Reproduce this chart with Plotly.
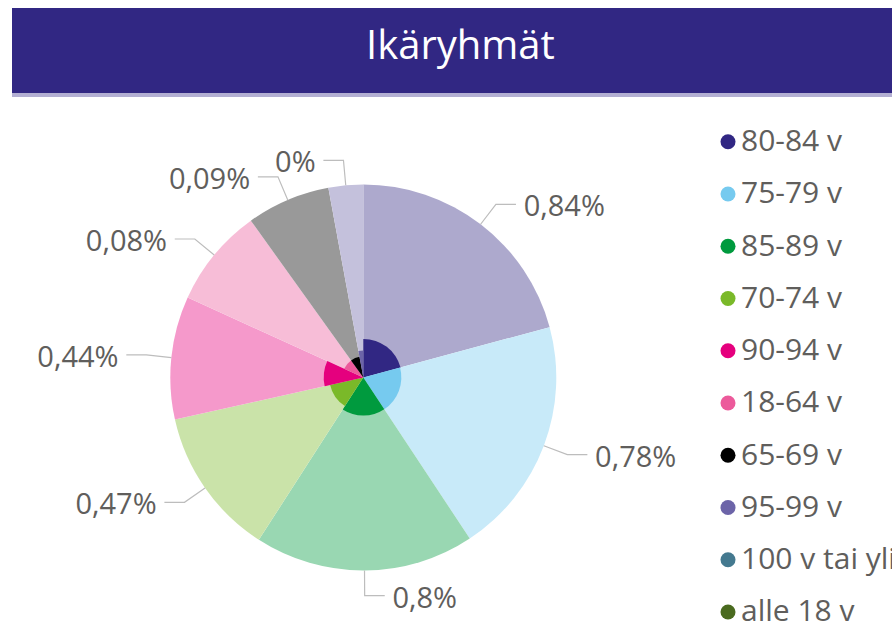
import math
import plotly.graph_objects as go

# ---------------- data ----------------
age_groups = ["80-84 v", "75-79 v", "85-89 v", "70-74 v", "90-94 v", "18-64 v", "65-69 v", "95-99 v"]
pct_labels = ["0,84%", "0,78%", "0,8%", "0,47%", "0,44%", "0,08%", "0,09%", "0%"]
share = [20.8, 19.9, 18.4, 12.4, 10.3, 8.3, 7.0, 2.9]            # slice angle measure (% of circle)
outer_value = [1, 1, 1, 1, 1, 1, 1, 1]                             # outer ring measure
inner_value = [0.20, 0.197, 0.197, 0.176, 0.205, 0.109, 0.109, 0.14]  # inner radius measure

legend_labels = ["80-84 v", "75-79 v", "85-89 v", "70-74 v", "90-94 v", "18-64 v",
                 "65-69 v", "95-99 v", "100 v tai yli", "alle 18 v"]
legend_colors = ["#312783", "#76CAEF", "#009A3E", "#7AB929", "#E5007E", "#EC5A9B",
                 "#000000", "#6C64A8", "#44798F", "#4A6A1F"]

# ---------------- styling ----------------
FONT = "Segoe UI, Open Sans, sans-serif"
TEXT_COL = "#605E5C"
W, H = 892, 630


def light(hex_col, a=0.4):
    h = hex_col.lstrip("#")
    r, g, b = int(h[0:2], 16), int(h[2:4], 16), int(h[4:6], 16)
    return "rgb(%d,%d,%d)" % tuple(round(255 - a * (255 - c)) for c in (r, g, b))


slice_colors = legend_colors[:len(age_groups)]
total = sum(share)
widths = [s / total * 360 for s in share]
centers = []
acc = 0
for w in widths:
    centers.append(acc + w / 2)
    acc += w

fig = go.Figure()

fig.add_trace(go.Barpolar(
    r=outer_value, theta=centers, width=widths,
    marker=dict(color=[light(c) for c in slice_colors], line=dict(width=0)),
    showlegend=False, hoverinfo="skip"))
fig.add_trace(go.Barpolar(
    r=inner_value, theta=centers, width=widths,
    marker=dict(color=slice_colors, line=dict(width=0)),
    showlegend=False, hoverinfo="skip"))


def to_polar(x, y):
    return math.hypot(x, y), math.degrees(math.atan2(x, y)) % 360


# leader lines + labels
R_EDGE, R_ELBOW, H_LEN, GAP, DROP = 1.0, 1.13, 0.104, 0.04, 0.025
lr, lt = [], []
tr, tt, tpos = [], [], []
for phi in centers:
    a = math.radians(phi)
    s = 1 if math.sin(a) >= 0 else -1
    x0, y0 = R_EDGE * math.sin(a), R_EDGE * math.cos(a)
    x1, y1 = R_ELBOW * math.sin(a), R_ELBOW * math.cos(a)
    x2, y2 = x1 + s * H_LEN, y1
    for (x, y) in [(x0, y0), (x1, y1), (x2, y2)]:
        r, t = to_polar(x, y)
        lr.append(r)
        lt.append(t)
    lr.append(None)
    lt.append(None)
    r, t = to_polar(x2 + s * GAP, y2 - DROP)
    tr.append(r)
    tt.append(t)
    tpos.append("middle right" if s > 0 else "middle left")

fig.add_trace(go.Scatterpolar(
    r=lr, theta=lt, mode="lines", line=dict(color="#BDBDBD", width=1.2),
    connectgaps=False, showlegend=False, hoverinfo="skip"))
fig.add_trace(go.Scatterpolar(
    r=tr, theta=tt, mode="text", text=pct_labels, textposition=tpos,
    textfont=dict(family=FONT, size=29, color=TEXT_COL),
    cliponaxis=False, showlegend=False, hoverinfo="skip"))

# manual legend
idx = list(range(len(legend_labels)))
fig.add_trace(go.Scatter(
    x=[0] * len(idx), y=idx, mode="markers",
    marker=dict(symbol="circle", size=15, color=legend_colors),
    xaxis="x", yaxis="y", cliponaxis=False, showlegend=False, hoverinfo="skip"))
fig.add_trace(go.Scatter(
    x=[0] * len(idx), y=idx, mode="text", text=legend_labels, textposition="middle right",
    textfont=dict(family=FONT, size=30, color=TEXT_COL),
    xaxis="x2", yaxis="y2", cliponaxis=False, showlegend=False, hoverinfo="skip"))

# polar placement: centre (363.3, 377.5) px, outer ring radius 193 px
RMAX = 1.30
rad_px = 193 * RMAX
cx, cy = 363.3, 377.5
fig.update_layout(
    width=W, height=H,
    margin=dict(l=0, r=0, t=0, b=0),
    paper_bgcolor="white", plot_bgcolor="white",
    polar=dict(
        domain=dict(x=[(cx - rad_px) / W, (cx + rad_px) / W],
                    y=[1 - (cy + rad_px) / H, 1 - (cy - rad_px) / H]),
        bgcolor="rgba(0,0,0,0)",
        barmode="overlay",
        radialaxis=dict(range=[0, RMAX], visible=False, showgrid=False),
        angularaxis=dict(rotation=90, direction="clockwise", visible=False,
                         showgrid=False, showline=False, showticklabels=False, ticks=""),
    ),
    xaxis=dict(domain=[728 / W, 1], range=[0, 1], visible=False, fixedrange=True, anchor="y"),
    xaxis2=dict(domain=[741 / W, 1], range=[0, 1], visible=False, fixedrange=True, anchor="y2"),
    yaxis=dict(domain=[1 - 612 / H, 1 - 141.7 / H], range=[len(idx) - 1, 0],
               visible=False, fixedrange=True, anchor="x"),
    yaxis2=dict(domain=[1 - 614 / H, 1 - 143.7 / H], range=[len(idx) - 1, 0],
                visible=False, fixedrange=True, anchor="x2"),
    showlegend=False,
    shapes=[
        dict(type="rect", xref="paper", yref="paper", x0=12 / W, x1=1,
             y0=1 - 93 / H, y1=1 - 8 / H, fillcolor="#312783", line=dict(width=0), layer="above"),
        dict(type="rect", xref="paper", yref="paper", x0=12 / W, x1=1,
             y0=1 - 97 / H, y1=1 - 93 / H, fillcolor="#B3AFD3", line=dict(width=0), layer="above"),
    ],
    annotations=[
        dict(text="Ikäryhmät", xref="paper", yref="paper", x=460 / W, y=1 - 44 / H,
             xanchor="center", yanchor="middle", showarrow=False,
             font=dict(family=FONT, size=40, color="white")),
    ],
)

fig.write_html(
    "out.html",
    config={"displayModeBar": False},
    post_script="document.body.style.margin='0';"
                "document.body.style.overflow='hidden';"
                "document.documentElement.style.overflow='hidden';",
)
